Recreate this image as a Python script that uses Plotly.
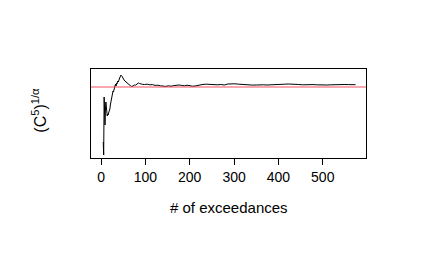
import plotly.graph_objects as go

# number of exceedances (x) and estimate (y)
n_exc = [5, 6, 7, 8, 9, 10, 11, 12, 13, 14, 15, 16, 17, 18, 19, 20, 21, 22, 23, 24,
         25, 26, 27, 28, 29, 30, 31, 32, 33, 34, 35, 36, 37, 38, 39, 40, 41, 42, 43, 44,
         45, 46, 47, 48, 50, 52, 54, 56, 58, 60, 63, 66, 69, 72, 75, 78, 81, 84, 87, 90,
         93, 98, 104, 110, 116, 122, 128, 134, 140, 146, 152, 158, 164, 170, 176, 182,
         188, 194, 200, 206, 212, 218, 224, 230, 238, 246, 254, 262, 270, 278, 286, 294,
         302, 310, 318, 326, 334, 342, 350, 358, 366, 374, 382, 390, 398, 406, 414, 422,
         430, 438, 446, 454, 462, 470, 478, 486, 494, 502, 510, 518, 526, 534, 542, 550,
         558, 566, 574]
est = [0.45, 0.32, 0.90, 0.72, 0.62, 0.78, 0.85, 0.80, 0.74, 0.71, 0.73, 0.72, 0.74, 0.75, 0.76, 0.78, 0.82, 0.85, 0.88, 0.87,
       0.91, 0.94, 0.96, 0.95, 0.98, 1.00, 0.99, 1.02, 1.03, 1.01, 1.04, 1.03, 1.05, 1.06, 1.05, 1.08, 1.07, 1.09, 1.10, 1.11,
       1.12, 1.115, 1.11, 1.10, 1.09, 1.07, 1.06, 1.05, 1.04, 1.035, 1.025, 1.015, 1.006, 1.01, 1.02, 1.018, 1.03, 1.04, 1.035, 1.03,
       1.027, 1.025, 1.028, 1.022, 1.024, 1.016, 1.018, 1.012, 1.008, 1.006, 1.012, 1.008, 1.014, 1.018, 1.02, 1.016,
       1.012, 1.018, 1.012, 1.008, 1.01, 1.016, 1.02, 1.026, 1.028, 1.024, 1.02, 1.022, 1.025, 1.02, 1.03, 1.033,
       1.032, 1.028, 1.024, 1.02, 1.022, 1.019, 1.02, 1.024, 1.022, 1.02, 1.023, 1.025, 1.023, 1.026, 1.028, 1.03,
       1.03, 1.028, 1.025, 1.022, 1.024, 1.026, 1.024, 1.022, 1.02, 1.019, 1.02, 1.022, 1.024, 1.026, 1.027, 1.025,
       1.024, 1.023, 1.023]
ref_value = 1.0
x_ticks = [0, 100, 200, 300, 400, 500]

FONT = "Liberation Sans, Arial, sans-serif"

fig = go.Figure()
fig.add_trace(go.Scatter(x=n_exc, y=est, mode="lines",
                         line=dict(color="black", width=1), showlegend=False,
                         hoverinfo="skip"))
fig.add_shape(type="line", xref="paper", x0=0, x1=1, yref="y", y0=ref_value, y1=ref_value,
              line=dict(color="rgba(235,60,80,0.9)", width=1.2))

# page body has an 8px margin, so the figure is sized/offset to compensate
fig.update_layout(
    width=428, height=256,
    margin=dict(l=83, r=70, t=61, b=106, pad=0),
    paper_bgcolor="white", plot_bgcolor="white",
    font=dict(family=FONT, size=14, color="black"),
    xaxis=dict(range=[-22.6, 597.5], tickvals=x_ticks, ticks="outside", ticklen=6,
               tickwidth=1, tickcolor="black", showline=True, linecolor="black",
               linewidth=1, mirror=True, showgrid=False, zeroline=False,
               tickfont=dict(size=14, family=FONT)),
    yaxis=dict(range=[0.29, 1.18], showticklabels=False, ticks="", showline=True,
               linecolor="black", linewidth=1, mirror=True, showgrid=False,
               zeroline=False),
    annotations=[
        dict(text="# of exceedances", xref="paper", yref="paper", x=0.5, y=-0.551,
             xanchor="center", yanchor="middle", showarrow=False,
             font=dict(size=15, family=FONT)),
        dict(text="(C<sup>5</sup>)<sup>1/α</sup>", xref="paper", yref="paper",
             x=-0.19, y=0.54, xanchor="center", yanchor="middle", textangle=-90,
             showarrow=False, font=dict(size=16, family=FONT)),
    ],
)

fig.write_html("out.html")
